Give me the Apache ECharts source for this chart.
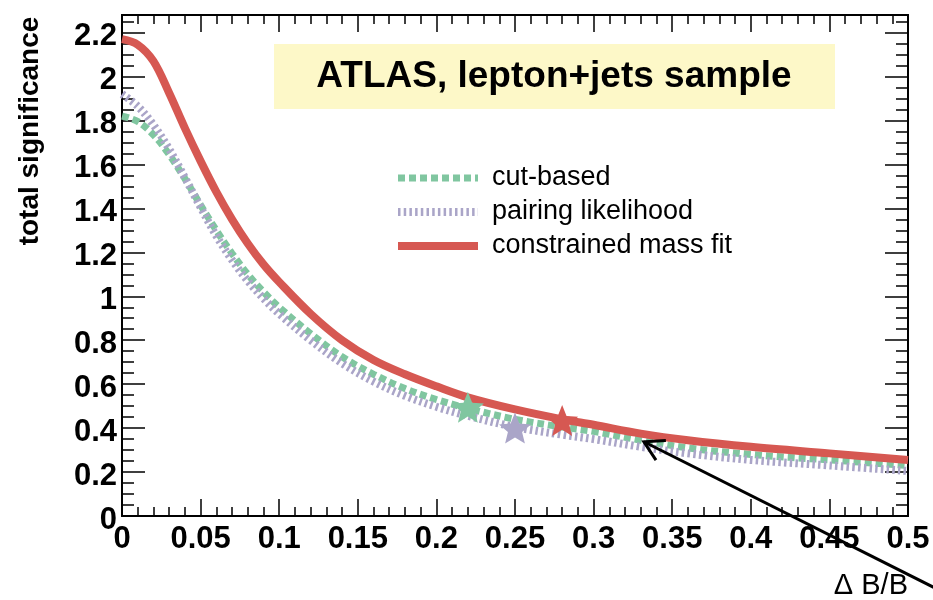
<!DOCTYPE html>
<html>
<head>
<meta charset="utf-8">
<script src="https://cdn.jsdelivr.net/npm/echarts@6/dist/echarts.min.js"></script>
<style>
  html, body { margin: 0; padding: 0; background: #ffffff; }
  #chart { width: 933px; height: 600px; }
</style>
</head>
<body>
<div id="chart"></div>
<script>
// Relative background uncertainty (x values shared by all curves)
const deltaB = [0, 0.01, 0.02, 0.03, 0.04, 0.05, 0.06, 0.07, 0.08, 0.09, 0.10,
  0.12, 0.14, 0.16, 0.18, 0.20, 0.22, 0.25, 0.28, 0.30, 0.33, 0.36, 0.40, 0.45, 0.50];

// Total significance for each selection method
const cutBased = [1.82, 1.795, 1.735, 1.645, 1.535, 1.415, 1.30, 1.195, 1.10, 1.02, 0.95,
  0.83, 0.725, 0.645, 0.58, 0.53, 0.49, 0.44, 0.405, 0.385, 0.345, 0.31, 0.28, 0.255, 0.23];
const pairingLikelihood = [1.92, 1.865, 1.78, 1.67, 1.54, 1.405, 1.275, 1.165, 1.07, 0.99, 0.92,
  0.80, 0.695, 0.612, 0.547, 0.497, 0.456, 0.405, 0.37, 0.35, 0.315, 0.285, 0.255, 0.23, 0.205];
const constrainedMassFit = [2.17, 2.145, 2.07, 1.925, 1.765, 1.615, 1.475, 1.35, 1.24, 1.145, 1.065,
  0.92, 0.80, 0.71, 0.645, 0.59, 0.54, 0.485, 0.44, 0.415, 0.375, 0.345, 0.315, 0.285, 0.255];

// Highlighted operating points [deltaB, significance]
const cutBasedPoint = [0.22, 0.495];
const pairingPoint = [0.25, 0.40];
const massFitPoint = [0.28, 0.435];

// Annotation arrow, in data units (tip on the curves, tail off the frame)
const arrowTip = [0.332, 0.338];
const arrowTail = [0.522, -0.345];

// Axis ranges and tick steps
const xRange = [0, 0.5];
const yRange = [0, 2.28];
const xMajor = 0.05;
const yMajor = 0.2;
const yMinor = 0.05;

const seriesNames = ['cut-based', 'pairing likelihood', 'constrained mass fit'];
const colors = { green: '#80c6a0', purple: '#aaa5c8', red: '#d65852' };
const FONT = '"Liberation Sans", Arial, Helvetica, sans-serif';

const pairs = ys => deltaB.map((x, i) => [x, ys[i]]);
const STAR = 'path://M0,-10 L2.6,-3.6 L9.51,-3.09 L4.2,1.36 L5.88,8.09 L0,4.5 L-5.88,8.09 L-4.2,1.36 L-9.51,-3.09 L-2.6,-3.6 Z';

const frameLine = { show: true, onZero: false, lineStyle: { color: '#000', width: 2 } };

function xAxisDef(pos, labels) {
  return {
    type: 'value', position: pos, min: xRange[0], max: xRange[1], interval: xMajor,
    axisLine: frameLine,
    axisTick: { show: true, inside: true, length: 17, lineStyle: { color: '#000', width: 1.5 } },
    minorTick: { show: true, splitNumber: 5, length: 9, lineStyle: { color: '#000', width: 1.5 } },
    splitLine: { show: false },
    axisLabel: { show: labels, margin: 8, color: '#000', fontSize: 31, fontWeight: 'bold', fontFamily: FONT }
  };
}

function yAxisDef(pos, step, len, labels) {
  return {
    type: 'value', position: pos, min: yRange[0], max: yRange[1], interval: step,
    axisLine: frameLine,
    axisTick: { show: true, inside: true, length: len, lineStyle: { color: '#000', width: 1.5 } },
    splitLine: { show: false },
    axisLabel: {
      show: labels, margin: 5, color: '#000', fontSize: 31, fontWeight: 'bold', fontFamily: FONT,
      verticalAlign: 'top', lineHeight: 8,
      formatter: v => {
        const r = Math.round(v / yMajor) * yMajor;
        return Math.abs(v - r) < 1e-6 ? String(Math.round(r * 10) / 10) : '';
      }
    }
  };
}

const chart = echarts.init(document.getElementById('chart'), null, { renderer: 'canvas' });

const lineSeries = (name, ys, color, lineStyle, z) => ({
  name, type: 'line', data: pairs(ys), smooth: 0.35,
  symbol: 'none', lineStyle: Object.assign({ color }, lineStyle), itemStyle: { color }, z
});

const starSeries = (name, point, color) => ({
  name, type: 'scatter', data: [point], symbol: STAR, symbolSize: [32, 31],
  itemStyle: { color, opacity: 1 }, z: 5, silent: true
});

const option = {
  animation: false,
  backgroundColor: '#ffffff',
  grid: { left: 122, right: 25, top: 15, bottom: 80, containLabel: false },
  xAxis: [
    Object.assign(xAxisDef('bottom', true), {
      name: 'Δ B/B', nameLocation: 'end', nameGap: 0,
      nameTextStyle: { fontSize: 29, color: '#000', fontFamily: FONT, align: 'right', verticalAlign: 'top', padding: [55, 0, 0, 0] }
    }),
    xAxisDef('top', false)
  ],
  yAxis: [
    yAxisDef('left', yMajor, 23, true),
    yAxisDef('left', yMinor, 12, false),
    yAxisDef('right', yMajor, 23, false),
    yAxisDef('right', yMinor, 12, false)
  ],
  legend: {
    orient: 'vertical', left: 394, top: 163, padding: 0,
    itemWidth: 80, itemHeight: 2, itemGap: 4,
    selectedMode: false,
    itemStyle: { opacity: 0 },
    textStyle: { fontSize: 27, color: '#000', fontFamily: FONT, lineHeight: 30, padding: [0, 0, 0, 9] },
    data: [
      { name: seriesNames[0], lineStyle: { width: 7 } },
      { name: seriesNames[1], lineStyle: { width: 8 } },
      { name: seriesNames[2], lineStyle: { width: 8 } }
    ]
  },
  series: [
    lineSeries(seriesNames[0], cutBased, colors.green, { width: 7, type: [7, 4] }, 2),
    lineSeries(seriesNames[1], pairingLikelihood, colors.purple, { width: 8, type: [2.5, 3.2] }, 2),
    lineSeries(seriesNames[2], constrainedMassFit, colors.red, { width: 8, type: 'solid' }, 3),
    starSeries('cut-based point', cutBasedPoint, colors.green),
    starSeries('pairing point', pairingPoint, colors.purple),
    starSeries('mass fit point', massFitPoint, colors.red)
  ]
};

chart.setOption(option);

// Annotation graphics: sample label, y-axis title and the pointing arrow
const tip = chart.convertToPixel({ xAxisIndex: 0, yAxisIndex: 0 }, arrowTip);
const tail = chart.convertToPixel({ xAxisIndex: 0, yAxisIndex: 0 }, arrowTail);
const ang = Math.atan2(tail[1] - tip[1], tail[0] - tip[0]);
const headLen = 22, headSpread = Math.PI / 6;
const arm = s => [tip[0] + headLen * Math.cos(ang + s * headSpread), tip[1] + headLen * Math.sin(ang + s * headSpread)];

chart.setOption({
  graphic: [
    {
      type: 'rect', shape: { x: 274, y: 44, width: 561, height: 65 },
      style: { fill: '#fdf8c8' }, z: 10
    },
    {
      type: 'text', x: 554, y: 77, z: 11,
      style: { text: 'ATLAS, lepton+jets sample', fill: '#000', fontSize: 37, fontWeight: 'bold', fontFamily: FONT, align: 'center', verticalAlign: 'middle' }
    },
    {
      type: 'text', x: 30, y: 131, rotation: Math.PI / 2, z: 11,
      style: { text: 'total significance', fill: '#000', fontSize: 28, fontWeight: 'bold', fontFamily: FONT, align: 'center', verticalAlign: 'middle' }
    },
    {
      type: 'line', z: 12,
      shape: { x1: tip[0], y1: tip[1], x2: tail[0], y2: tail[1] },
      style: { stroke: '#000', lineWidth: 3 }
    },
    {
      type: 'polyline', z: 12,
      shape: { points: [arm(1), tip, arm(-1)] },
      style: { stroke: '#000', lineWidth: 3, fill: null, lineJoin: 'miter' }
    }
  ]
});
</script>
</body>
</html>
